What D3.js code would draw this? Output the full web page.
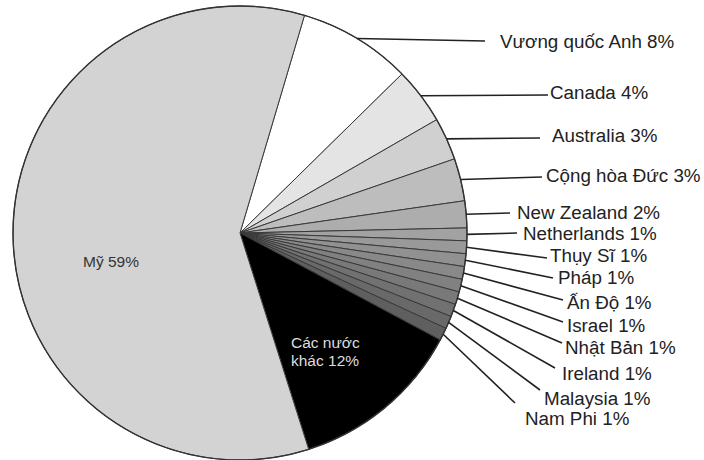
<!DOCTYPE html>
<html>
<head>
<meta charset="utf-8">
<script src="https://cdn.jsdelivr.net/npm/d3@7"></script>
<style>
  html, body { margin: 0; padding: 0; background: #fff; }
  svg { display: block; }
  text { font-family: "Liberation Sans", Arial, sans-serif; }
</style>
</head>
<body>
<svg id="chart" width="704" height="460"></svg>
<script>
// ---- Data ----
const countries = ["Vương quốc Anh", "Canada", "Australia", "Cộng hòa Đức", "New Zealand",
  "Netherlands", "Thụy Sĩ", "Pháp", "Ấn Độ", "Israel", "Nhật Bản", "Ireland",
  "Malaysia", "Nam Phi", "Các nước khác", "Mỹ"];
const shares = [8, 4, 3, 3, 1.9, 0.9, 0.9, 0.9, 0.9, 0.9, 0.9, 0.9, 0.9, 0.9, 12.2, 59];
const shareLabels = ["8%", "4%", "3%", "3%", "2%", "1%", "1%", "1%", "1%", "1%", "1%", "1%", "1%", "1%", "12%", "59%"];
const fills = ["#ffffff", "#e4e4e4", "#d0d0d0", "#bdbdbd", "#adadad",
  "#a2a2a2", "#999999", "#919191", "#898989", "#818181", "#797979", "#717171",
  "#696969", "#5f5f5f", "#000000", "#d3d3d3"];

// ---- Layout (label placement for the outside labels) ----
const outside = [
  { lineX: 485, lineY: 41, textX: 500, textY: 41 },
  { lineX: 548, lineY: 95, textX: 550, textY: 92 },
  { lineX: 540, lineY: 138, textX: 552, textY: 135 },
  { lineX: 542, lineY: 177, textX: 546, textY: 175 },
  { lineX: 510, lineY: 213, textX: 517, textY: 212 },
  { lineX: 517, lineY: 233, textX: 523, textY: 233 },
  { lineX: 547, lineY: 258, textX: 550, textY: 255 },
  { lineX: 553, lineY: 278, textX: 558, textY: 277 },
  { lineX: 563, lineY: 300, textX: 567, textY: 302 },
  { lineX: 563, lineY: 322, textX: 567, textY: 325 },
  { lineX: 562, lineY: 343, textX: 565, textY: 347 },
  { lineX: 555, lineY: 368, textX: 562, textY: 373 },
  { lineX: 540, lineY: 390, textX: 544, textY: 398 },
  { lineX: 515, lineY: 403, textX: 525, textY: 418 }
];

const cx = 240, cy = 233, R = 227;
const start = 16.5 * Math.PI / 180;

const svg = d3.select("#chart");
const g = svg.append("g").attr("transform", `translate(${cx},${cy})`);

const pie = d3.pie().sort(null).value(d => d.v)
  .startAngle(start).endAngle(start + 2 * Math.PI);
const data = countries.map((c, i) => ({ name: c, v: shares[i], lab: shareLabels[i], fill: fills[i], i }));
const arcs = pie(data);
const arc = d3.arc().innerRadius(0).outerRadius(R);

g.selectAll("path.slice").data(arcs).join("path")
  .attr("class", "slice")
  .attr("d", arc)
  .attr("fill", d => d.data.fill)
  .attr("stroke", "#3a3a3a")
  .attr("stroke-width", 1)
  .attr("stroke-linejoin", "round");

g.append("circle").attr("r", R).attr("fill", "none")
  .attr("stroke", "#333").attr("stroke-width", 1.4);

// leader lines & outside labels
arcs.slice(0, outside.length).forEach((a, i) => {
  const m = (a.startAngle + a.endAngle) / 2;
  const x0 = cx + R * Math.sin(m), y0 = cy - R * Math.cos(m);
  const L = outside[i];
  svg.append("line")
    .attr("x1", x0).attr("y1", y0).attr("x2", L.lineX).attr("y2", L.lineY)
    .attr("stroke", "#222").attr("stroke-width", 1.6);
  svg.append("text")
    .attr("x", L.textX).attr("y", L.textY).attr("dy", "0.36em")
    .attr("font-size", 18.8).attr("fill", "#222")
    .text(a.data.name + " " + a.data.lab);
});

// inside labels
const others = arcs[14], usa = arcs[15];
svg.append("text").attr("x", 291).attr("y", 348).attr("font-size", 15.5).attr("fill", "#dddddd")
  .text("Các nước");
svg.append("text").attr("x", 291).attr("y", 366).attr("font-size", 15.5).attr("fill", "#dddddd")
  .text("khác " + others.data.lab);
svg.append("text").attr("x", 83).attr("y", 267).attr("font-size", 15.5).attr("fill", "#333")
  .text(usa.data.name + " " + usa.data.lab);
</script>
</body>
</html>
